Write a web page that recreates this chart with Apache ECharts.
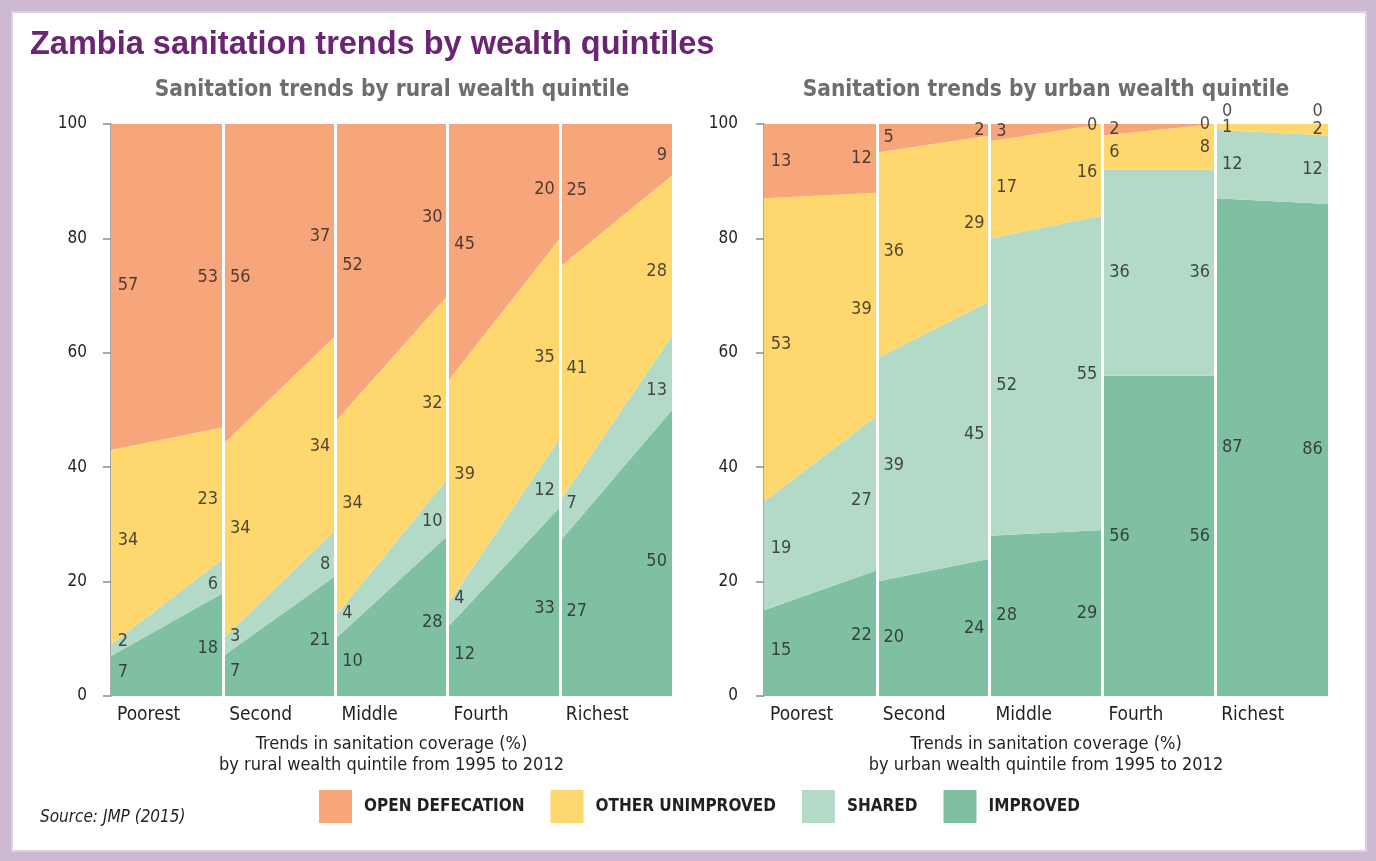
<!DOCTYPE html>
<html>
<head>
<meta charset="utf-8">
<title>Zambia sanitation trends by wealth quintiles</title>
<script src="https://cdn.jsdelivr.net/npm/echarts@6/dist/echarts.min.js"></script>
<style>
  html, body { margin: 0; padding: 0; background: #fff; }
  #chart { width: 1376px; height: 861px; }
</style>
</head>
<body>
<div id="chart"></div>
<script>
const quintiles = ['Poorest', 'Second', 'Middle', 'Fourth', 'Richest'];
// stacking order, bottom to top
const categories = ['IMPROVED', 'SHARED', 'OTHER UNIMPROVED', 'OPEN DEFECATION'];
const legendOrder = ['OPEN DEFECATION', 'OTHER UNIMPROVED', 'SHARED', 'IMPROVED'];

// [1995, 2012] for each quintile
const ruralImproved = [[7, 18], [7, 21], [10, 28], [12, 33], [27, 50]];
const ruralShared = [[2, 6], [3, 8], [4, 10], [4, 12], [7, 13]];
const ruralOther = [[34, 23], [34, 34], [34, 32], [39, 35], [41, 28]];
const ruralOpen = [[57, 53], [56, 37], [52, 30], [45, 20], [25, 9]];

const urbanImproved = [[15, 22], [20, 24], [28, 29], [56, 56], [87, 86]];
const urbanShared = [[19, 27], [39, 45], [52, 55], [36, 36], [12, 12]];
const urbanOther = [[53, 39], [36, 29], [17, 16], [6, 8], [1, 2]];
const urbanOpen = [[13, 12], [5, 2], [3, 0], [2, 0], [0, 0]];

// quintile boundaries along the x axis
const edges = ['0', '1', '2', '3', '4', '5'];

const colors = {
  'IMPROVED': '#80c0a2',
  'SHARED': '#b2dac7',
  'OTHER UNIMPROVED': '#fed86f',
  'OPEN DEFECATION': '#f6a67a'
};
const FONT = '"DejaVu Sans Condensed", "Liberation Sans Narrow", Roboto, sans-serif';
const INK = '#231f20';

const panels = [
  {
    bands: [ruralImproved, ruralShared, ruralOther, ruralOpen],
    subtitle: 'Sanitation trends by rural wealth quintile',
    axisName: 'Trends in sanitation coverage (%)\nby rural wealth quintile from 1995 to 2012',
    grid: { left: 111, right: 704, top: 124, bottom: 165 },
    axisOffset: 4,
    center: 392
  },
  {
    bands: [urbanImproved, urbanShared, urbanOther, urbanOpen],
    subtitle: 'Sanitation trends by urban wealth quintile',
    axisName: 'Trends in sanitation coverage (%)\nby urban wealth quintile from 1995 to 2012',
    grid: { left: 764, right: 48, top: 124, bottom: 165 },
    axisOffset: 6,
    center: 1046
  }
];

const grids = [], xAxes = [], yAxes = [], series = [];

// category axes carry the stacked areas (index 0, 1)
panels.forEach((p, pi) => {
  grids.push(p.grid);
  xAxes.push({
    type: 'category', gridIndex: pi, data: edges, boundaryGap: false,
    axisLine: { show: false }, axisTick: { show: false }, splitLine: { show: false },
    axisLabel: {
      interval: 0,
      formatter: (v, i) => quintiles[i] || '',
      align: 'left', padding: [0, 0, 0, 6], margin: 10,
      fontFamily: FONT, fontSize: 19, color: INK
    },
    name: p.axisName, nameLocation: 'middle', nameGap: 38,
    nameTextStyle: { fontFamily: FONT, fontSize: 18, lineHeight: 21, color: INK, verticalAlign: 'top' }
  });
  yAxes.push({
    type: 'value', gridIndex: pi, min: 0, max: 100, interval: 20,
    offset: p.axisOffset,
    axisLine: { show: true, lineStyle: { color: '#8c8c8c', width: 1.5 } },
    axisTick: { show: true, length: 8, lineStyle: { color: '#8c8c8c', width: 1.5 } },
    splitLine: { show: false },
    axisLabel: { margin: 20, fontFamily: FONT, fontSize: 17, color: INK }
  });
});
// hidden value axes for labels and separators (index 2, 3)
panels.forEach((p, pi) => {
  xAxes.push({
    type: 'value', gridIndex: pi, min: 0, max: 5, show: false
  });
});

panels.forEach((p, pi) => {
  // stacked areas, one stack per quintile
  quintiles.forEach((q, qi) => {
    categories.forEach((cat, ci) => {
      const vals = p.bands[ci][qi];
      const data = edges.map(() => '-');
      data[qi] = vals[0];
      data[qi + 1] = vals[1];
      series.push({
        name: cat, type: 'line', xAxisIndex: pi, yAxisIndex: pi,
        stack: 'p' + pi + 'q' + qi,
        color: colors[cat],
        data: data,
        symbol: 'none', showSymbol: false, connectNulls: false,
        lineStyle: { width: 0 },
        areaStyle: { color: colors[cat], opacity: 1 },
        silent: true, animation: false, z: 2
      });
    });
  });

  // value labels near both ends of each quintile, at the band's middle
  const labels = [];
  quintiles.forEach((q, qi) => {
    [0, 1].forEach(side => {
      const f = side ? 0.88 : 0.12;
      let base = 0;
      let prevMid = null;
      categories.forEach((cat, ci) => {
        const v = p.bands[ci][qi];
        const h = v[0] + (v[1] - v[0]) * f;
        const mid = base + h / 2;
        base += h;
        const crowded = prevMid !== null && mid - prevMid < 2.5;
        labels.push({
          value: [qi + (side ? 0.955 : 0.06), mid, v[side]],
          label: { align: side ? 'right' : 'left', offset: [0, crowded ? -13 : 0] }
        });
        prevMid = mid;
      });
    });
  });
  series.push({
    type: 'scatter', xAxisIndex: 2 + pi, yAxisIndex: pi,
    data: labels, symbolSize: 1,
    itemStyle: { color: 'rgba(0,0,0,0)' },
    label: {
      show: true, position: 'inside', verticalAlign: 'middle',
      formatter: d => String(d.value[2]),
      fontFamily: FONT, fontSize: 18, color: INK
    },
    markLine: {
      silent: true, symbol: ['none', 'none'], label: { show: false },
      lineStyle: { color: '#ffffff', width: 3, type: 'solid' },
      data: [1, 2, 3, 4].map(x => ({ xAxis: x })),
      animation: false
    },
    silent: true, animation: false, z: 3
  });
});

const chart = echarts.init(document.getElementById('chart'));
chart.setOption({
  backgroundColor: '#cab9d1',
  animation: false,
  grid: grids,
  xAxis: xAxes,
  yAxis: yAxes,
  legend: {
    data: legendOrder, icon: 'rect', selectedMode: false,
    left: 319, top: 790, padding: 0, itemWidth: 33, itemHeight: 33, itemGap: 26,
    textStyle: { fontFamily: FONT, fontSize: 17, fontWeight: 'bold', color: INK, padding: [0, 0, 0, 7] }
  },
  graphic: [
    { type: 'rect', z: -10, shape: { x: 12, y: 12, width: 1354, height: 839 },
      style: { fill: '#ffffff', stroke: '#ddd1e2', lineWidth: 2 } },
    { type: 'text', x: 30, y: 45,
      style: { text: 'Zambia sanitation trends by wealth quintiles', fill: '#6b2474',
        font: 'bold 32.5px "Liberation Sans", Arial, sans-serif', verticalAlign: 'middle' } },
    { type: 'text', x: panels[0].center, y: 90,
      style: { text: panels[0].subtitle, fill: '#6d6e71', align: 'center', verticalAlign: 'middle',
        font: 'bold 22.5px ' + FONT } },
    { type: 'text', x: panels[1].center, y: 90,
      style: { text: panels[1].subtitle, fill: '#6d6e71', align: 'center', verticalAlign: 'middle',
        font: 'bold 22.5px ' + FONT } },
    { type: 'text', x: 40, y: 818,
      style: { text: 'Source: JMP (2015)', fill: INK, verticalAlign: 'middle',
        font: 'italic 17px ' + FONT } }
  ],
  series: series
});
</script>
</body>
</html>
